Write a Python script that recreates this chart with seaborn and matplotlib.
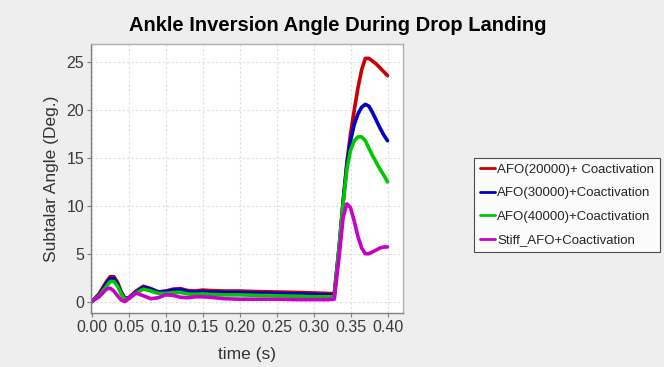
import pandas as pd
import seaborn as sns
import matplotlib.pyplot as plt

# time samples (s)
time_s = [0, 0.01, 0.02, 0.025, 0.03, 0.035, 0.04, 0.045, 0.05, 0.06, 0.07, 0.08,
          0.09, 0.10, 0.11, 0.12, 0.13, 0.14, 0.15, 0.16, 0.18, 0.20, 0.22, 0.25,
          0.28, 0.30, 0.32, 0.328, 0.335, 0.34, 0.345, 0.35, 0.355, 0.36, 0.365,
          0.37, 0.375, 0.38, 0.385, 0.39, 0.395, 0.40]

afo_20000 = [0, 0.8, 2.1, 2.6, 2.6, 2.0, 1.0, 0.35, 0.4, 1.1, 1.6, 1.35,
             1.0, 1.1, 1.3, 1.35, 1.15, 1.1, 1.2, 1.15, 1.1, 1.1, 1.05, 1.0,
             0.95, 0.9, 0.85, 0.8, 6.0, 10.5, 14.5, 17.5, 20.0, 22.3, 24.2,
             25.4, 25.4, 25.1, 24.8, 24.4, 24.0, 23.6]

afo_30000 = [0, 0.7, 1.9, 2.4, 2.4, 1.8, 0.9, 0.3, 0.35, 1.0, 1.5, 1.3,
             1.0, 1.05, 1.2, 1.25, 1.05, 1.0, 1.05, 1.0, 0.95, 0.95, 0.9, 0.85,
             0.8, 0.75, 0.7, 0.65, 6.0, 10.4, 14.2, 16.8, 18.5, 19.6, 20.3,
             20.6, 20.4, 19.7, 18.9, 18.1, 17.4, 16.8]

afo_40000 = [0, 0.6, 1.6, 2.1, 2.1, 1.6, 0.8, 0.2, 0.3, 0.9, 1.3, 1.1,
             0.85, 0.85, 0.95, 0.95, 0.8, 0.75, 0.8, 0.75, 0.7, 0.7, 0.65, 0.6,
             0.55, 0.5, 0.5, 0.5, 6.0, 10.3, 13.8, 15.8, 16.8, 17.2, 17.2,
             16.8, 16.0, 15.2, 14.5, 13.8, 13.2, 12.5]

stiff_afo = [0, 0.5, 1.3, 1.4, 1.1, 0.6, 0.15, 0.0, 0.3, 0.9, 0.6, 0.3,
             0.4, 0.7, 0.65, 0.45, 0.4, 0.5, 0.5, 0.45, 0.3, 0.25, 0.25, 0.25,
             0.2, 0.2, 0.2, 0.25, 5.0, 8.8, 10.2, 9.8, 8.4, 6.8, 5.6,
             5.0, 5.0, 5.2, 5.4, 5.6, 5.7, 5.7]

series_names = ["AFO(20000)+ Coactivation", "AFO(30000)+Coactivation",
                "AFO(40000)+Coactivation", "Stiff_AFO+Coactivation"]
series_colors = ["#c80000", "#0000c8", "#00c800", "#c800c8"]

x_ticks = [0.00, 0.05, 0.10, 0.15, 0.20, 0.25, 0.30, 0.35, 0.40]
y_ticks = [0, 5, 10, 15, 20, 25]

df = pd.DataFrame({"time": time_s * 4,
                   "angle": afo_20000 + afo_30000 + afo_40000 + stiff_afo,
                   "series": [n for n in series_names for _ in time_s]})

sns.set_theme(style="whitegrid")
plt.rcParams['font.family'] = ['Liberation Sans', 'DejaVu Sans']

fig = plt.figure(figsize=(6.64, 3.67), dpi=100, facecolor="#eeeeee")
ax = fig.add_axes([0.137, 0.147, 0.47, 0.733])
ax.set_facecolor("white")

sns.lineplot(data=df, x="time", y="angle", hue="series", hue_order=series_names,
             palette=series_colors, linewidth=2.6, ax=ax, legend=False)

ax.set_xlim(-0.001, 0.421)
ax.set_ylim(-1.2, 26.9)
ax.set_xticks(x_ticks)
ax.set_xticklabels([f"{v:.2f}" for v in x_ticks])
ax.set_yticks(y_ticks)
ax.grid(True, color="#dedede", linestyle=(0, (2, 2)), linewidth=0.8)
for s in ax.spines.values():
    s.set_color("#b0b0b0")
    s.set_linewidth(1.0)
ax.spines["left"].set_color("#808080")
ax.spines["bottom"].set_color("#808080")
ax.tick_params(axis="both", labelsize=11.5, colors="#3a3a3a", length=3,
               width=0.8, pad=2, bottom=True, left=True)
ax.tick_params(axis="both", color="#808080")

ax.set_xlabel("time (s)", fontsize=12.5, color="#333333", labelpad=9)
ax.set_ylabel("Subtalar Angle (Deg.)", fontsize=12.5, color="#333333", labelpad=5)
fig.text(0.508, 0.93, "Ankle Inversion Angle During Drop Landing",
         ha="center", va="center", fontsize=14.5, fontweight="bold",
         color="black")

handles = [plt.Line2D([], [], color=c, linewidth=2) for c in series_colors]
leg = fig.legend(handles, series_names, loc="upper left",
                 bbox_to_anchor=(0.714, 0.57), fontsize=9.5, frameon=True,
                 fancybox=False, edgecolor="#222222", facecolor="white",
                 handlelength=1.1, handletextpad=0.2, borderpad=0.45,
                 labelspacing=0.85, borderaxespad=0)
leg.get_frame().set_linewidth(0.8)

fig.savefig("out.png", dpi=100, facecolor=fig.get_facecolor())
